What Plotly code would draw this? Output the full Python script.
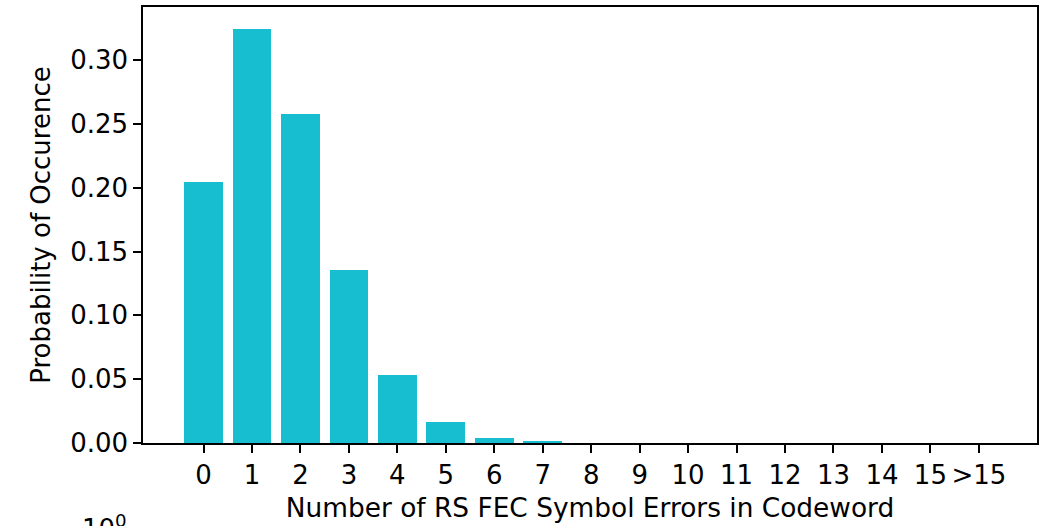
import plotly.graph_objects as go

categories = [str(i) for i in range(16)] + [">15"]
positions = list(range(17))
probabilities = [0.2045, 0.3247, 0.2578, 0.1357, 0.0535, 0.0166, 0.0041, 0.0008,
                 0.0, 0.0, 0.0, 0.0, 0.0, 0.0, 0.0, 0.0, 0.0]
y_ticks = [0.00, 0.05, 0.10, 0.15, 0.20, 0.25, 0.30]

FONT = "DejaVu Sans"
FS = 26

fig = go.Figure()
fig.add_trace(go.Bar(
    x=positions, y=probabilities, width=0.8,
    marker=dict(color="#17becf", line=dict(width=0)),
))

fig.update_layout(
    width=1048, height=526,
    margin=dict(l=143, r=11, t=5, b=83),
    plot_bgcolor="white", paper_bgcolor="white",
    showlegend=False,
    font=dict(family=FONT, size=FS, color="black"),
    bargap=0,
)
fig.update_xaxes(
    range=[-1.25, 17.2],
    tickmode="array", tickvals=positions, ticktext=categories,
    ticks="outside", ticklen=8, tickwidth=1.5, tickcolor="black",
    showline=True, linecolor="black", linewidth=1.5, mirror=True,
    showgrid=False, zeroline=False,
    tickfont=dict(family=FONT, size=FS),
    title=dict(text="Number of RS FEC Symbol Errors in Codeword", standoff=10,
               font=dict(family=FONT, size=26.4)),
)
fig.update_yaxes(
    range=[0, 0.3416],
    tickmode="array", tickvals=y_ticks, ticktext=[f"{v:.2f}" for v in y_ticks],
    ticks="outside", ticklen=8, tickwidth=1.5, tickcolor="black",
    showline=True, linecolor="black", linewidth=1.5, mirror=True,
    showgrid=False, zeroline=False,
    tickfont=dict(family=FONT, size=FS),
    title=dict(text="Probability of Occurence", standoff=12,
               font=dict(family=FONT, size=FS)),
)
fig.add_annotation(
    text="10<sup>0</sup>", xref="paper", yref="paper",
    x=-0.0705, y=-0.150, xanchor="left", yanchor="top", showarrow=False,
    font=dict(family=FONT, size=FS),
)

fig.write_html("out.html")
